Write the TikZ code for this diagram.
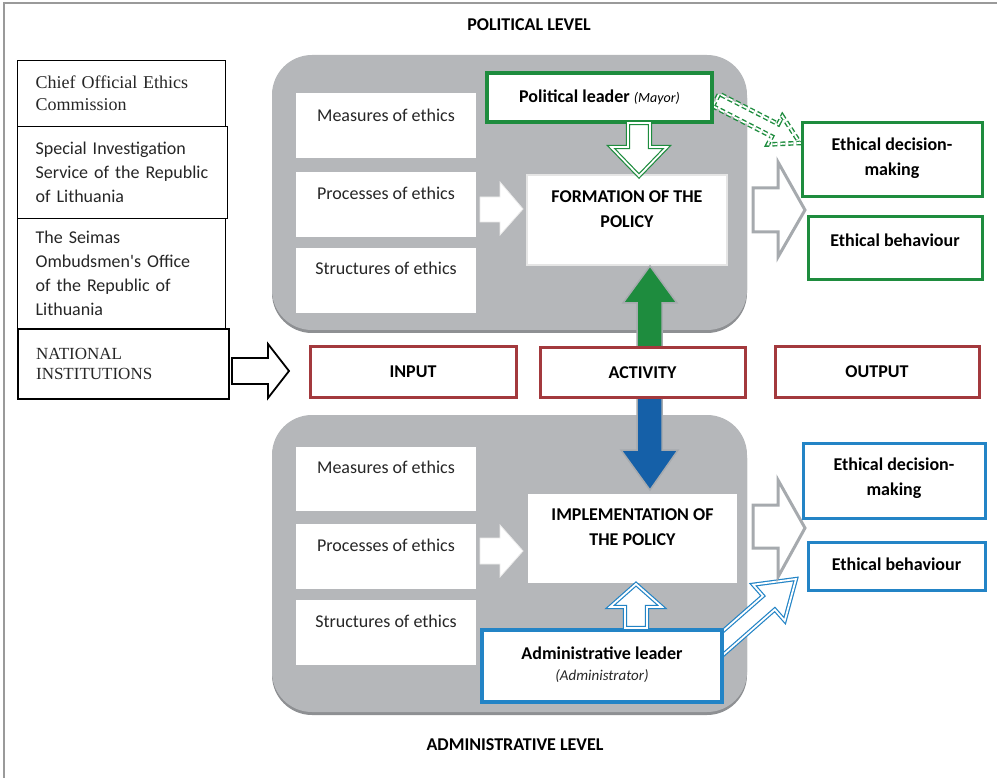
\documentclass[tikz,border=0pt]{standalone}
\usepackage{fontspec}
\setmainfont{Carlito}
\newfontfamily\tnr{Liberation Serif}
\definecolor{panelgray}{HTML}{B5B7BA}
\definecolor{panelshadow}{HTML}{8E9093}
\definecolor{polgreen}{HTML}{1E8C3E}
\definecolor{admblue}{HTML}{2384C6}
\definecolor{bigblue}{HTML}{1560A8}
\definecolor{inred}{HTML}{A3393D}
\definecolor{arrgray}{HTML}{A6AAAE}
\definecolor{framegray}{HTML}{9A9A9A}
\definecolor{txtgray}{HTML}{262626}
\begin{document}
\begin{tikzpicture}[x=1pt,y=-1pt,
  txt/.style={font=\fontsize{18pt}{24pt}\selectfont, text=txtgray, inner sep=0pt},
  btxt/.style={font=\fontsize{18pt}{25pt}\selectfont\bfseries, text=black, inner sep=0pt, align=center},
  panel/.style={fill=panelgray, rounded corners=40pt, draw=none,
     preaction={fill=panelshadow, transform canvas={yshift=-3pt}}},
  leftbox/.style={draw=black, line width=1.2pt, fill=white, anchor=north west,
     align=left, inner xsep=18pt, inner ysep=0pt,
     font=\fontsize{18pt}{24pt}\selectfont, text=txtgray},
  ethbox/.style={fill=white, draw=none},
  polbox/.style={draw=polgreen, line width=3.5pt, fill=white},
  admbox/.style={draw=admblue, line width=3.5pt, fill=white},
  redbox/.style={draw=inred, line width=3pt, fill=white},
  outarrow/.style={draw=arrgray, line width=3pt, fill=white, line join=miter},
  softarrow/.style={fill=white, draw=black!8, line width=0.8pt},
  dblgreen/.style={draw=polgreen, line width=1.2pt, double=white, double distance=1.8pt, fill=white},
  dblblue/.style={draw=admblue, line width=1.2pt, double=white, double distance=1.8pt, fill=white},
]
\useasboundingbox (0,0) rectangle (997,778);
% frame
\draw[framegray, line width=1.5pt] (4,778) -- (4,3) -- (997,3);

% level titles
\node[btxt] (poltitle) at (529,25) {POLITICAL LEVEL};
\node[btxt] (admtitle) at (515,745) {ADMINISTRATIVE LEVEL};

% panels
\node[panel, minimum width=475pt, minimum height=275pt] (toppanel) at (509.5,192.5) {};
\node[panel, minimum width=475pt, minimum height=297pt] (botpanel) at (509.5,563.5) {};

% left boxes
\node[leftbox, minimum height=66pt, text width=172pt, font=\fontsize{18pt}{22pt}\selectfont\tnr] (chief) at (17,60) {Chief Official Ethics\\Commission};
\node[leftbox, minimum height=92pt, text width=174pt] (special) at (17,126) {Special Investigation\\Service of the Republic\\of Lithuania};
\node[leftbox, minimum height=110pt, text width=172pt] (seimas) at (17,218) {The Seimas\\Ombudsmen\textquotesingle s Office\\of the Republic of\\Lithuania};
\node[leftbox, line width=2.2pt, minimum height=70pt, text width=175pt, font=\fontsize{17pt}{20pt}\selectfont\tnr] (national) at (17,328) {NATIONAL\\INSTITUTIONS};

% national arrow
\draw[draw=black, line width=1.8pt, fill=white, line join=miter]
  (232,358) -- (268,358) -- (268,344) -- (289,371) -- (268,398) -- (268,384) -- (232,384) -- cycle;

% ethics boxes top
\node[ethbox, minimum width=180pt, minimum height=65pt] (tmeas) at (386,125.5) {};
\node[txt] (tmeast) at (386,115) {Measures of ethics};
\node[ethbox, minimum width=180pt, minimum height=65pt] (tproc) at (386,204.5) {};
\node[txt] (tproct) at (386,193) {Processes of ethics};
\node[ethbox, minimum width=180pt, minimum height=65pt] (tstruc) at (386,280.5) {};
\node[txt] (tstruct) at (386,268) {Structures of ethics};
% ethics boxes bottom
\node[ethbox, minimum width=180pt, minimum height=64pt] (bmeas) at (386,478.5) {};
\node[txt] (bmeast) at (386,467) {Measures of ethics};
\node[ethbox, minimum width=180pt, minimum height=65pt] (bproc) at (386,556.5) {};
\node[txt] (bproct) at (386,545) {Processes of ethics};
\node[ethbox, minimum width=180pt, minimum height=65pt] (bstruc) at (386,632.5) {};
\node[txt] (bstruct) at (386,621) {Structures of ethics};

% soft white arrows
\draw[softarrow] (480,197) -- (500,197) -- (500,182) -- (523,209) -- (500,235) -- (500,222) -- (480,222) -- cycle;
\draw[softarrow] (480,538) -- (500,538) -- (500,525) -- (523,551) -- (500,577) -- (500,564) -- (480,564) -- cycle;

% formation / implementation
\node[fill=white, draw=black!10, line width=2pt, minimum width=200pt, minimum height=90pt] (formation) at (627,220) {};
\node[btxt] (formationt) at (627,209.5) {FORMATION OF THE\\POLICY};
\node[fill=white, minimum width=209pt, minimum height=89pt] (implem) at (632.5,538.5) {};
\node[btxt] (implemt) at (632.5,527) {IMPLEMENTATION OF\\THE POLICY};

% dashed green arrow (behind leader box)
\draw[dblgreen, line width=1.4pt, dash pattern=on 5pt off 3pt]
  (712.8,106.2) -- (771.9,136.5) -- (767.8,144.5) -- (800,143) -- (782.4,116.1) -- (778.3,124.1) -- (719.2,93.8) -- cycle;
% blue diagonal arrow (behind admin box)
\draw[dblblue]
  (720.9,656.8) -- (774.8,609.5) -- (784.7,620.7) -- (796,579) -- (753.1,584.7) -- (763.0,595.9) -- (709.1,643.2) -- cycle;

% leaders
\node[polbox, minimum width=225pt, minimum height=49pt] (polleader) at (599.5,97.5) {};
\node[txt, text=black] (polleadert) at (599.5,97) {\textbf{Political leader} {\fontsize{14pt}{16pt}\selectfont\itshape (Mayor)}};
\node[admbox, minimum width=240pt, minimum height=72pt] (admleader) at (602,666) {};
\node[btxt] (admleadert) at (602,653) {Administrative leader};
\node[txt, font=\fontsize{15pt}{18pt}\selectfont\itshape] (admleadert2) at (602,676) {(Administrator)};

% leader arrows
\draw[dblgreen] (628,123) -- (650,123) -- (650,147) -- (667,147) -- (639,176) -- (611,147) -- (628,147) -- cycle;
\draw[dblblue] (625,628) -- (647,628) -- (647,607) -- (662,607) -- (636,584) -- (610,607) -- (625,607) -- cycle;

% big vertical arrows
\draw[fill=polgreen, draw=arrgray, line width=1.5pt]
  (637,347) -- (662,347) -- (662,303) -- (677,303) -- (650,266) -- (623,303) -- (637,303) -- cycle;
\draw[fill=bigblue, draw=arrgray, line width=1.5pt]
  (637,397) -- (662,397) -- (662,450) -- (678,450) -- (650,490) -- (621,450) -- (637,450) -- cycle;

% red boxes
\node[redbox, minimum width=206pt, minimum height=50pt, btxt] (input) at (413,372) {INPUT};
\node[redbox, minimum width=205pt, minimum height=49pt, btxt] (activity) at (642.5,372.5) {ACTIVITY};
\node[redbox, minimum width=204pt, minimum height=50pt, btxt] (output) at (877,372) {OUTPUT};

% output arrows
\draw[outarrow] (753,188) -- (778,188) -- (778,162) -- (805,210) -- (778,257) -- (778,232) -- (753,232) -- cycle;
\draw[outarrow] (753,505) -- (778,505) -- (778,480) -- (805,528) -- (778,577) -- (778,548) -- (753,548) -- cycle;

% ethical boxes top (green)
\node[polbox, line width=3pt, minimum width=180pt, minimum height=74pt] (tdec) at (892,160) {};
\node[btxt] (tdect) at (892,158.5) {Ethical decision-\\making};
\node[polbox, line width=3pt, minimum width=174pt, minimum height=63pt] (tbeh) at (895,248.5) {};
\node[btxt] (tbeht) at (895,240) {Ethical behaviour};
% ethical boxes bottom (blue)
\node[admbox, line width=3pt, minimum width=182pt, minimum height=75pt] (bdec) at (894,480.5) {};
\node[btxt] (bdect) at (894,478) {Ethical decision-\\making};
\node[admbox, line width=3pt, minimum width=177pt, minimum height=48pt] (bbeh) at (896.5,566) {};
\node[btxt] (bbeht) at (896.5,564) {Ethical behaviour};
\end{tikzpicture}
\end{document}
